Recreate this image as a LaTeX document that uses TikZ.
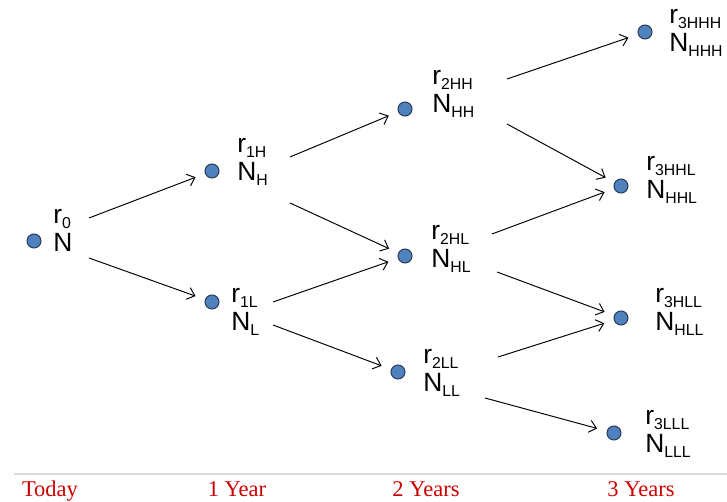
\documentclass[tikz,border=0pt]{standalone}
\usepackage{fontspec}
\setmainfont{Liberation Sans}
\newfontfamily\yearfont{Liberation Serif}
\usetikzlibrary{arrows.meta}
\definecolor{dotblue}{RGB}{79,129,189}
\definecolor{dotedge}{RGB}{40,60,90}
\definecolor{yearred}{RGB}{204,0,0}
\newcommand{\lo}[1]{\raisebox{-3pt}{\fontsize{9}{9}\selectfont #1}}

\begin{document}
\begin{tikzpicture}[x=0.02cm,y=-0.02cm,
  dot/.style={circle,draw=dotedge,fill=dotblue,line width=0.6pt,minimum size=0.28cm,inner sep=0pt},
  lab/.style={anchor=west,align=left,inner sep=0pt,font=\fontsize{15}{16}\selectfont},
  arr/.style={-{Straight Barb[length=4pt,width=7pt]},line width=0.55pt,shorten >=0.2cm},
  yr/.style={anchor=base,text=yearred,font=\yearfont\fontsize{12.8}{14}\selectfont}]
  \useasboundingbox (0,0) rectangle (727,502);

  % rate tree
  \node[dot] (d0) at (34,241) {};
  \node[dot] (d1H) at (212,171) {};
  \node[dot] (d1L) at (212,302) {};
  \node[dot] (d2HH) at (405,109) {};
  \node[dot] (d2HL) at (405,256) {};
  \node[dot] (d2LL) at (398,372) {};
  \node[dot] (d3HHH) at (645,32) {};
  \node[dot] (d3HHL) at (621,186) {};
  \node[dot] (d3HLL) at (621,318) {};
  \node[dot] (d3LLL) at (614,433) {};

  \node[lab] (l0) at (53,230) {r\lo{0}\\N};
  \node[lab] (l1H) at (237,162) {r\lo{1H}\\N\lo{H}};
  \node[lab] (l1L) at (231,312) {r\lo{1L}\\N\lo{L}};
  \node[lab] (l2HH) at (432,94) {r\lo{2HH}\\N\lo{HH}};
  \node[lab] (l2HL) at (431,249) {r\lo{2HL}\\N\lo{HL}};
  \node[lab] (l2LL) at (423,373) {r\lo{2LL}\\N\lo{LL}};
  \node[lab] (l3HHH) at (669,33) {r\lo{3HHH}\\N\lo{HHH}};
  \node[lab] (l3HHL) at (646,180) {r\lo{3HHL}\\N\lo{HHL}};
  \node[lab] (l3HLL) at (655,312) {r\lo{3HLL}\\N\lo{HLL}};
  \node[lab] (l3LLL) at (645,434) {r\lo{3LLL}\\N\lo{LLL}};

  % arrow starts
  \coordinate (s0u) at (89,218);
  \coordinate (s0d) at (89,258);
  \coordinate (s1Hu) at (290,157);
  \coordinate (s1Hd) at (290,203);
  \coordinate (s1Lu) at (273,302);
  \coordinate (s1Ld) at (273,325);
  \coordinate (s2HHu) at (507,79);
  \coordinate (s2HHd) at (507,124);
  \coordinate (s2HLu) at (492,234);
  \coordinate (s2HLd) at (497,272);
  \coordinate (s2LLu) at (498,357);
  \coordinate (s2LLd) at (485,398);

  \draw[arr] (s0u) -- (d1H);
  \draw[arr] (s0d) -- (d1L);
  \draw[arr] (s1Hu) -- (d2HH);
  \draw[arr] (s1Hd) -- (d2HL);
  \draw[arr] (s1Lu) -- (d2HL);
  \draw[arr] (s1Ld) -- (d2LL);
  \draw[arr] (s2HHu) -- (d3HHH);
  \draw[arr] (s2HHd) -- (d3HHL);
  \draw[arr] (s2HLu) -- (d3HHL);
  \draw[arr] (s2HLd) -- (d3HLL);
  \draw[arr] (s2LLu) -- (d3HLL);
  \draw[arr] (s2LLd) -- (d3LLL);

  % time axis
  \coordinate (axl) at (14,474);
  \coordinate (axr) at (727,474);
  \draw[black!15,line width=0.6pt] (axl) -- (axr);
  \node[yr] (t0) at (50,497) {Today};
  \node[yr] (t1) at (237,497) {1 Year};
  \node[yr] (t2) at (426,497) {2 Years};
  \node[yr] (t3) at (641,497) {3 Years};
\end{tikzpicture}
\end{document}
